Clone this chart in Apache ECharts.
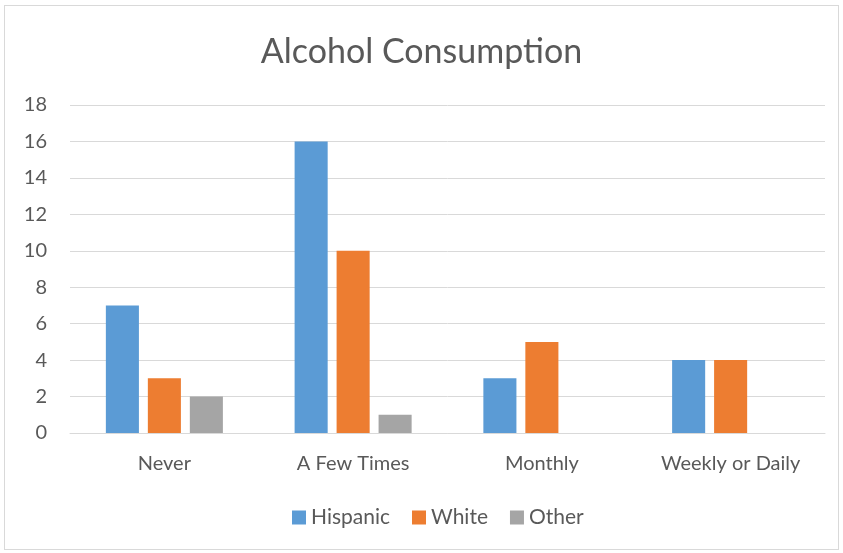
<!DOCTYPE html>
<html><head><meta charset="utf-8">
<script src="https://cdn.jsdelivr.net/npm/echarts@6/dist/echarts.min.js"></script>
<style>
html,body{margin:0;padding:0;background:#fff;}
#frame{position:absolute;left:4px;top:5px;width:833px;height:543px;border:1px solid #d9d9d9;}
#c{position:absolute;left:0;top:0;width:843px;height:553px;}
</style></head>
<body><div id="frame"></div><div id="c"></div>
<script>
const categories = ["Never", "A Few Times", "Monthly", "Weekly or Daily"];
const hispanic = [7, 16, 3, 4];
const white = [3, 10, 5, 4];
const other = [2, 1, 0, 0];
const yTicks = {min: 0, max: 18, interval: 2};
const font = "Lato, 'Open Sans', sans-serif";
const chart = echarts.init(document.getElementById('c'));
chart.setOption({
  animation: false,
  textStyle: {fontFamily: font},
  title: {text: "Alcohol Consumption", left: 'center', top: 30,
    textStyle: {fontSize: 34, fontWeight: 'normal', color: '#595959', fontFamily: font}},
  legend: {bottom: 20, left: 287, itemWidth: 14, itemHeight: 14, itemGap: 22,
    icon: 'rect', textStyle: {fontSize: 21, color: '#595959'},
    data: ["Hispanic", "White", "Other"]},
  grid: {left: 70, right: 18, top: 105, bottom: 120},
  xAxis: {type: 'category', data: categories,
    axisLine: {lineStyle: {color: '#d9d9d9', width: 1}}, axisTick: {show: false},
    axisLabel: {fontSize: 20, color: '#595959', margin: 21, interval: 0, hideOverlap: false}},
  yAxis: {type: 'value', min: yTicks.min, max: yTicks.max, interval: yTicks.interval,
    axisLine: {show: false}, axisTick: {show: false},
    splitLine: {lineStyle: {color: '#d9d9d9'}},
    axisLabel: {fontSize: 20, color: '#595959', margin: 23}},
  series: [
    {name: "Hispanic", type: 'bar', data: hispanic, itemStyle: {color: '#5b9bd5'}, barGap: '27%', barCategoryGap: '38%'},
    {name: "White", type: 'bar', data: white, itemStyle: {color: '#ed7d31'}},
    {name: "Other", type: 'bar', data: other, itemStyle: {color: '#a5a5a5'}}
  ]
});
</script></body></html>
